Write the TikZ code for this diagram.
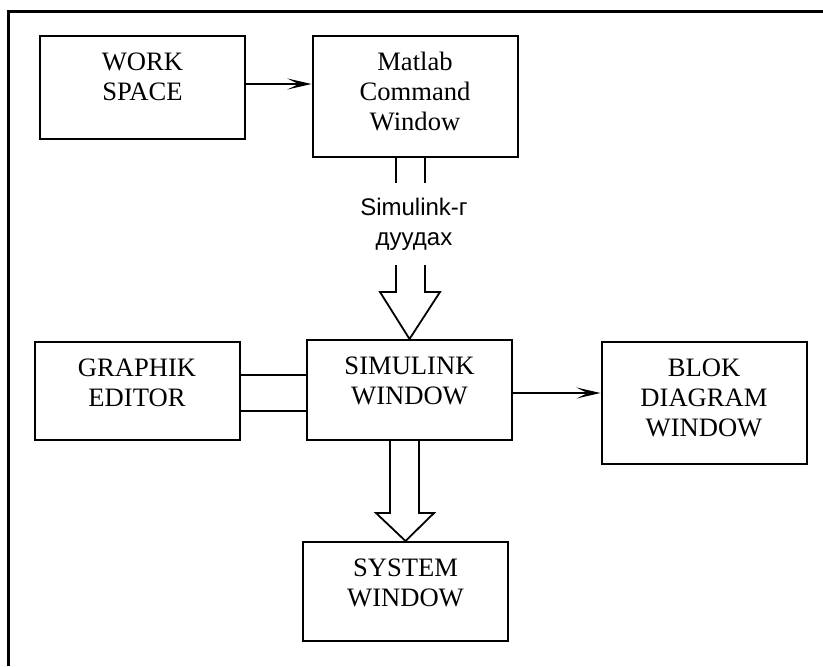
\documentclass[tikz,border=0pt]{standalone}
\usepackage{fontspec}
\setmainfont{Liberation Serif}
\setsansfont{Liberation Sans}
\usetikzlibrary{arrows.meta}

\begin{document}
\begin{tikzpicture}[x=0.5pt,y=-0.5pt,line width=0.9pt,
    >={Stealth[length=12pt,width=5.5pt,inset=5.5pt]},
    box/.style 2 args={draw,line width=1pt,anchor=north,align=center,minimum width=102.5pt,
        inner ysep=0pt,text height=#1,text depth=#2,font=\fontsize{13.3}{15.2}\selectfont},
    note/.style={align=center,inner ysep=7pt,font=\sffamily\fontsize{12}{15}\selectfont}]
    \useasboundingbox (0,0) rectangle (823,666);
    \draw[line width=1.5pt] (8,666) -- (8,11) -- (823,11);

    \node[box={32.2pt}{19.3pt}] (ws) at (142.5,35) {WORK\\SPACE};
    \node[box={47.4pt}{13.1pt}] (mcw) at (415,35) {Matlab\\Command\\Window};
    \node[note] (call) at (414,224) {Simulink-г\\дуудах};
    \node[box={32.2pt}{16.8pt}] (ge) at (137,341) {GRAPHIK\\EDITOR};
    \node[box={32.2pt}{17.8pt}] (sw) at (409.5,339) {SIMULINK\\WINDOW};
    \node[box={47.4pt}{13.6pt}] (bdw) at (704,341) {BLOK\\DIAGRAM\\WINDOW};
    \node[box={32.2pt}{17.3pt}] (sys) at (405.5,541) {SYSTEM\\WINDOW};

    \draw[->] ([yshift=1.75pt]ws.east) -- ([yshift=1.75pt]ws.east -| mcw.west);
    \draw ([yshift=8pt]ge.east) -- ([yshift=8pt]ge.east -| sw.west)
          ([yshift=-10pt]ge.east) -- ([yshift=-10pt]ge.east -| sw.west);
    \draw[->] ([yshift=-1.5pt]sw.east) -- ([yshift=-1.5pt]sw.east -| bdw.west);

    \draw (396,0 |- mcw.south) -- (396,0 |- call.north)
          (425,0 |- mcw.south) -- (425,0 |- call.north);
    \draw (396,0 |- call.south) -- (396,292) -- (380,292) -- (sw.north)
          -- (440,292) -- (425,292) -- (425,0 |- call.south);
    \draw (390,0 |- sw.south) -- (390,513) -- (376,513) -- (sys.north)
          -- (434,513) -- (419,513) -- (419,0 |- sw.south);
\end{tikzpicture}
\end{document}
